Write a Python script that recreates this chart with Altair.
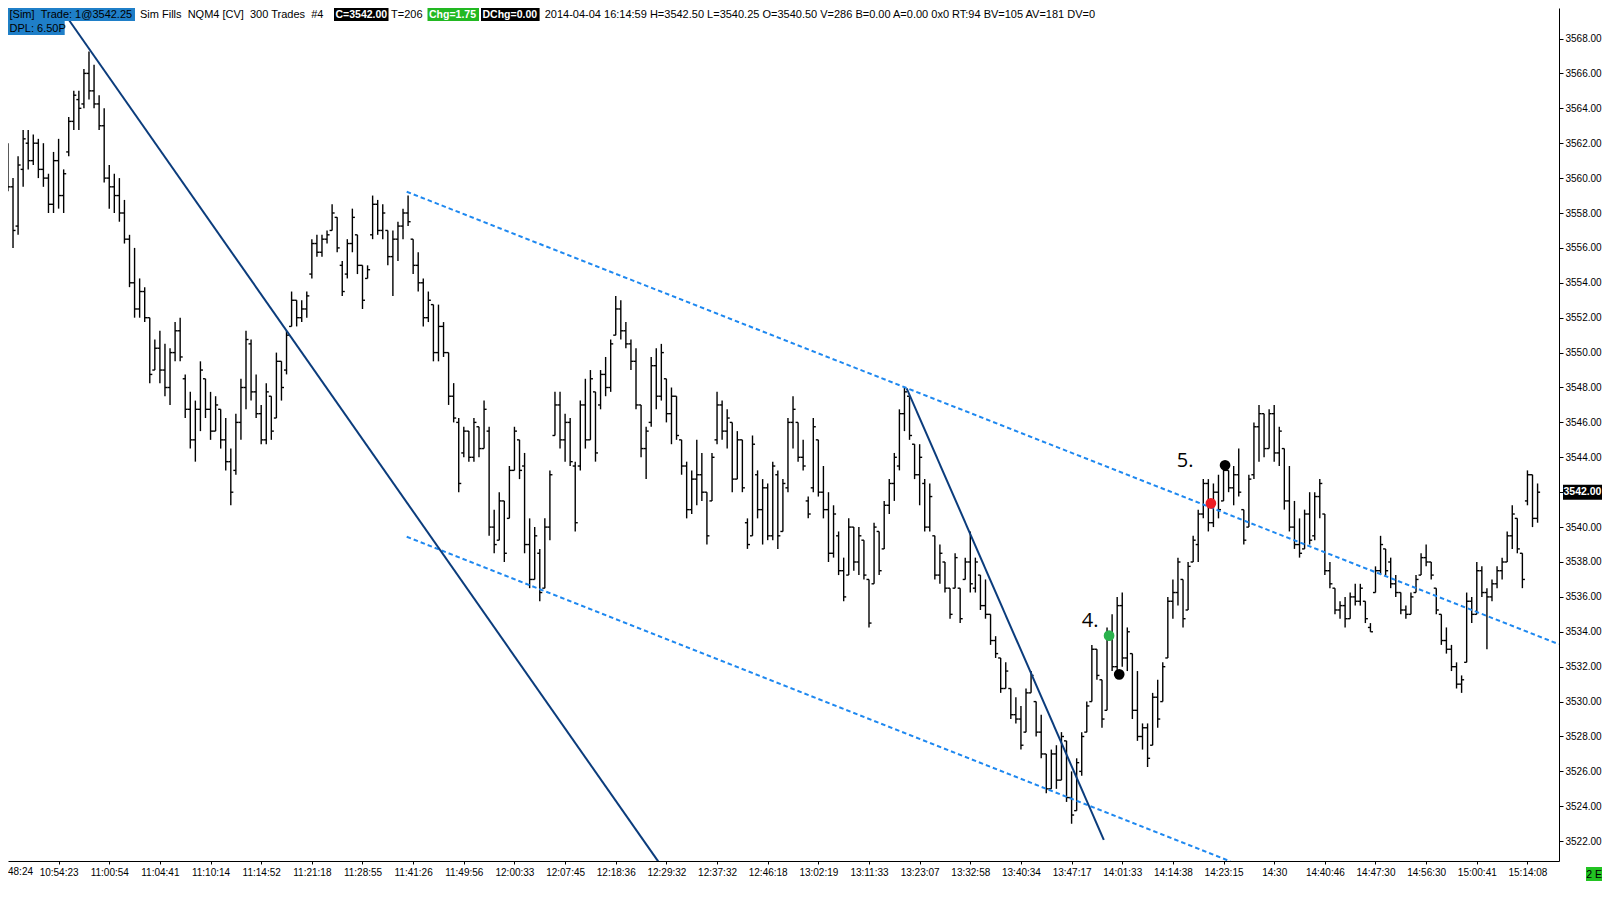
import altair as alt
import pandas as pd

# ---------------- data ----------------
high = [
3562.0, 3560.0, 3561.25, 3562.75, 3562.75, 3562.5, 3562.25, 3562.0, 3560.25, 3561.5,
3562.25, 3560.5, 3563.5, 3565.0, 3565.0, 3566.25, 3567.25, 3566.5, 3564.75, 3564.0,
3560.75, 3560.25, 3560.0, 3558.75, 3556.75, 3556.0, 3554.25, 3553.75, 3552.0, 3550.75,
3551.25, 3550.5, 3550.25, 3551.75, 3552.0, 3548.75, 3547.75, 3547.25, 3549.5, 3548.5,
3547.75, 3547.5, 3546.75, 3546.25, 3544.5, 3546.5, 3548.5, 3551.25, 3550.75, 3548.75,
3547.0, 3548.25, 3547.5, 3550.0, 3549.5, 3551.25, 3553.5, 3553.0, 3553.0, 3553.5,
3556.5, 3556.75, 3556.75, 3557.0, 3558.5, 3557.75, 3555.25, 3556.5, 3558.25, 3556.75,
3555.0, 3555.0, 3559.0, 3558.75, 3558.5, 3557.0, 3557.0, 3557.5, 3558.25, 3559.0,
3556.5, 3555.75, 3554.25, 3553.5, 3552.75, 3552.75, 3551.75, 3550.0, 3548.25, 3546.25,
3545.75, 3545.5, 3546.25, 3545.75, 3547.25, 3545.75, 3541.0, 3542.0, 3541.5, 3543.5,
3545.75, 3545.0, 3544.25, 3540.5, 3540.0, 3538.75, 3540.5, 3543.25, 3547.75, 3547.75,
3546.5, 3546.25, 3543.75, 3547.25, 3548.5, 3549.0, 3547.75, 3549.0, 3549.75, 3550.75,
3553.25, 3553.0, 3551.75, 3550.75, 3550.25, 3547.0, 3545.75, 3549.75, 3550.25, 3550.5,
3548.5, 3548.0, 3547.5, 3545.0, 3543.75, 3543.25, 3545.0, 3544.25, 3542.0, 3544.25,
3547.75, 3547.25, 3546.75, 3546.0, 3545.5, 3545.0, 3540.5, 3545.25, 3543.25, 3542.75,
3542.5, 3543.75, 3543.25, 3542.75, 3546.25, 3547.5, 3546.0, 3545.0, 3541.75, 3546.25,
3545.0, 3543.5, 3542.0, 3541.25, 3539.75, 3538.25, 3540.5, 3540.0, 3540.0, 3539.25,
3537.0, 3540.25, 3539.75, 3541.5, 3542.75, 3544.25, 3546.75, 3548.0, 3547.5, 3544.75,
3544.75, 3542.75, 3542.5, 3539.5, 3539.0, 3538.0, 3536.5, 3538.5, 3536.5, 3538.25,
3539.75, 3538.25, 3537.25, 3537.0, 3535.0, 3533.75, 3532.5, 3532.25, 3530.75, 3530.25,
3529.75, 3530.75, 3531.75, 3530.0, 3529.25, 3527.0, 3527.25, 3527.5, 3528.25, 3527.75,
3526.0, 3526.75, 3528.25, 3530.0, 3533.25, 3533.0, 3531.25, 3534.25, 3535.0, 3536.0,
3536.25, 3534.25, 3532.75, 3531.75, 3528.75, 3528.75, 3530.5, 3531.25, 3532.25, 3536.0,
3537.0, 3538.25, 3537.0, 3538.0, 3539.5, 3541.0, 3542.75, 3542.75, 3542.5, 3543.0,
3543.75, 3543.25, 3543.5, 3544.5, 3541.0, 3543.0, 3546.0, 3547.0, 3546.5, 3546.75,
3547.0, 3545.75, 3544.5, 3543.5, 3541.5, 3540.5, 3541.0, 3542.0, 3542.0, 3542.75,
3540.75, 3538.0, 3536.5, 3535.75, 3536.0, 3536.25, 3536.75, 3536.75, 3535.75, 3534.5,
3537.75, 3539.5, 3538.75, 3538.25, 3537.25, 3536.25, 3535.5, 3536.25, 3537.25, 3538.5,
3539.0, 3538.0, 3536.5, 3535.0, 3534.25, 3533.25, 3532.25, 3531.5, 3536.25, 3536.0,
3538.0, 3537.75, 3536.5, 3537.0, 3537.75, 3538.25, 3539.75, 3541.25, 3540.5, 3538.5,
3543.25, 3543.0, 3542.5,
]
low = [
3559.25, 3556.0, 3556.75, 3559.5, 3560.5, 3560.75, 3560.0, 3559.5, 3558.0, 3558.0,
3558.25, 3558.0, 3561.25, 3562.75, 3562.75, 3564.0, 3564.5, 3564.0, 3562.75, 3559.75,
3558.25, 3558.0, 3557.5, 3556.25, 3553.75, 3552.0, 3552.0, 3551.75, 3548.25, 3549.0,
3548.25, 3547.5, 3547.0, 3549.5, 3549.5, 3546.25, 3544.5, 3543.75, 3545.5, 3546.25,
3545.0, 3545.5, 3544.5, 3543.25, 3541.25, 3543.0, 3545.0, 3546.75, 3547.25, 3546.25,
3544.75, 3544.75, 3545.0, 3546.25, 3547.25, 3548.75, 3551.5, 3551.5, 3551.75, 3552.0,
3554.25, 3555.5, 3555.5, 3556.25, 3557.0, 3555.75, 3553.25, 3554.25, 3555.75, 3554.5,
3552.5, 3554.25, 3556.5, 3556.75, 3556.5, 3555.0, 3553.25, 3555.25, 3556.5, 3557.25,
3554.5, 3553.5, 3551.5, 3551.75, 3549.5, 3549.5, 3549.75, 3547.0, 3546.0, 3542.0,
3544.0, 3543.75, 3543.75, 3544.0, 3544.5, 3539.5, 3538.5, 3539.25, 3538.0, 3540.5,
3543.25, 3542.75, 3538.5, 3536.5, 3537.0, 3535.75, 3536.5, 3539.25, 3545.25, 3544.5,
3543.75, 3543.5, 3539.75, 3543.25, 3544.5, 3545.0, 3543.75, 3546.75, 3547.5, 3547.75,
3551.0, 3550.75, 3550.25, 3549.0, 3546.75, 3544.0, 3542.75, 3545.75, 3546.75, 3547.25,
3546.0, 3544.75, 3545.0, 3543.0, 3540.5, 3540.75, 3541.25, 3541.5, 3539.0, 3541.5,
3544.75, 3545.0, 3544.5, 3542.0, 3542.75, 3542.0, 3538.75, 3539.5, 3540.5, 3539.0,
3539.25, 3539.25, 3538.75, 3539.75, 3542.0, 3544.5, 3543.75, 3543.25, 3540.5, 3542.0,
3541.75, 3540.5, 3538.0, 3538.25, 3537.25, 3535.75, 3537.25, 3537.5, 3537.25, 3537.0,
3534.25, 3536.75, 3537.25, 3538.75, 3540.75, 3541.5, 3543.25, 3545.5, 3545.0, 3542.75,
3541.25, 3539.75, 3539.75, 3537.0, 3536.75, 3536.25, 3534.75, 3536.5, 3534.5, 3537.0,
3536.25, 3536.25, 3535.25, 3534.75, 3533.25, 3532.5, 3530.5, 3530.75, 3529.0, 3528.75,
3527.25, 3528.25, 3530.5, 3528.0, 3526.75, 3524.75, 3525.0, 3525.0, 3525.5, 3524.25,
3523.0, 3523.75, 3525.75, 3528.25, 3530.0, 3531.25, 3528.5, 3529.5, 3531.75, 3531.75,
3532.0, 3531.75, 3529.0, 3527.75, 3527.25, 3526.25, 3527.5, 3528.5, 3530.0, 3532.5,
3534.75, 3535.5, 3534.25, 3535.25, 3538.0, 3538.0, 3540.5, 3539.75, 3540.0, 3540.5,
3541.5, 3542.0, 3541.25, 3541.75, 3539.0, 3540.0, 3542.75, 3543.75, 3544.0, 3544.5,
3543.75, 3543.5, 3541.0, 3539.75, 3538.75, 3538.25, 3538.75, 3539.0, 3539.25, 3540.5,
3537.25, 3536.5, 3535.0, 3534.75, 3534.25, 3534.75, 3535.5, 3535.5, 3534.5, 3534.0,
3536.25, 3537.25, 3537.25, 3536.5, 3536.0, 3535.0, 3534.75, 3535.0, 3536.25, 3537.25,
3537.75, 3537.0, 3535.0, 3533.25, 3532.75, 3531.75, 3530.75, 3530.5, 3532.25, 3534.5,
3535.0, 3536.0, 3533.0, 3535.75, 3536.5, 3537.0, 3538.0, 3538.75, 3538.5, 3536.5,
3541.25, 3540.0, 3540.25,
]
open_ = [
3561.5, 3559.5, 3557.25, 3560.5, 3562.0, 3561.0, 3562.0, 3560.5, 3560.0, 3558.5,
3561.0, 3559.0, 3561.5, 3563.25, 3564.5, 3564.25, 3566.0, 3565.0, 3564.25, 3563.0,
3560.0, 3559.5, 3559.0, 3558.0, 3556.5, 3554.0, 3552.5, 3553.5, 3552.0, 3549.0,
3550.25, 3549.0, 3548.0, 3550.0, 3551.25, 3548.5, 3546.75, 3545.0, 3546.75, 3548.5,
3546.75, 3545.5, 3546.75, 3545.0, 3543.75, 3543.25, 3546.0, 3548.0, 3550.5, 3547.75,
3546.5, 3545.0, 3547.5, 3546.25, 3549.5, 3549.0, 3551.5, 3553.0, 3552.0, 3552.5,
3554.5, 3556.25, 3555.75, 3556.5, 3557.0, 3557.75, 3555.0, 3554.5, 3556.25, 3556.75,
3555.0, 3554.25, 3556.75, 3558.5, 3557.0, 3557.0, 3555.5, 3556.5, 3557.25, 3558.0,
3556.5, 3555.0, 3554.0, 3552.0, 3552.75, 3550.0, 3551.5, 3550.0, 3547.5, 3546.0,
3544.25, 3545.5, 3544.0, 3545.75, 3544.5, 3545.5, 3540.0, 3539.25, 3541.5, 3540.5,
3543.25, 3545.0, 3543.5, 3539.0, 3537.0, 3538.5, 3536.5, 3540.0, 3545.25, 3547.0,
3545.0, 3546.0, 3543.5, 3543.5, 3547.0, 3545.0, 3547.75, 3547.0, 3548.75, 3548.0,
3551.0, 3552.5, 3551.25, 3550.5, 3549.5, 3547.0, 3544.5, 3546.0, 3549.25, 3547.5,
3548.5, 3546.5, 3547.5, 3545.0, 3543.5, 3541.0, 3542.75, 3543.0, 3542.0, 3541.5,
3545.0, 3547.0, 3545.5, 3546.0, 3542.75, 3545.0, 3540.25, 3539.5, 3543.0, 3541.0,
3542.25, 3539.5, 3543.0, 3539.75, 3542.25, 3546.0, 3546.0, 3544.0, 3541.5, 3542.25,
3545.0, 3542.0, 3541.0, 3538.5, 3539.5, 3537.5, 3537.25, 3540.0, 3538.0, 3539.25,
3537.0, 3536.75, 3539.75, 3538.75, 3541.25, 3542.5, 3543.5, 3546.5, 3547.5, 3544.75,
3543.0, 3542.5, 3540.0, 3539.5, 3537.25, 3538.0, 3536.5, 3536.5, 3536.5, 3537.0,
3538.0, 3536.5, 3537.25, 3535.5, 3535.0, 3533.5, 3532.5, 3530.75, 3530.75, 3529.25,
3529.0, 3528.25, 3530.5, 3530.0, 3528.25, 3527.0, 3525.0, 3527.0, 3525.5, 3527.75,
3524.5, 3523.75, 3526.0, 3528.25, 3530.0, 3533.0, 3531.25, 3529.5, 3533.75, 3532.0,
3535.5, 3532.5, 3532.75, 3529.5, 3528.0, 3528.5, 3527.5, 3530.25, 3530.0, 3532.5,
3535.75, 3536.25, 3537.0, 3535.25, 3538.0, 3539.0, 3540.75, 3542.5, 3540.25, 3542.0,
3541.5, 3543.25, 3542.25, 3543.0, 3541.0, 3540.0, 3543.0, 3545.75, 3546.5, 3544.5,
3546.5, 3544.25, 3544.5, 3541.5, 3540.0, 3539.0, 3538.75, 3540.75, 3539.5, 3541.75,
3540.75, 3537.5, 3536.5, 3535.25, 3535.5, 3534.75, 3536.0, 3535.75, 3535.75, 3534.25,
3536.25, 3537.5, 3538.75, 3538.0, 3536.75, 3536.25, 3535.25, 3535.0, 3536.25, 3537.25,
3538.25, 3538.0, 3536.5, 3535.0, 3533.5, 3533.0, 3532.0, 3531.0, 3532.25, 3535.75,
3535.0, 3537.5, 3536.25, 3536.0, 3536.75, 3537.5, 3538.0, 3539.5, 3540.5, 3538.5,
3541.5, 3543.0, 3540.5,
]
close = [
3559.5, 3557.0, 3560.75, 3562.25, 3561.0, 3562.0, 3560.5, 3560.0, 3558.5, 3561.0,
3559.0, 3560.25, 3563.25, 3564.75, 3564.0, 3566.0, 3565.0, 3564.25, 3563.0, 3560.0,
3559.5, 3559.0, 3558.0, 3556.5, 3554.0, 3552.5, 3553.5, 3552.0, 3548.75, 3550.25,
3549.0, 3548.0, 3550.0, 3551.25, 3549.75, 3546.75, 3545.0, 3546.75, 3549.0, 3546.75,
3545.5, 3547.0, 3545.0, 3543.75, 3542.0, 3546.0, 3548.0, 3550.75, 3547.75, 3546.5,
3545.0, 3547.75, 3545.5, 3549.5, 3548.0, 3551.0, 3553.0, 3552.0, 3552.5, 3553.25,
3556.25, 3555.75, 3556.5, 3556.75, 3558.0, 3556.0, 3553.5, 3556.25, 3557.75, 3555.0,
3553.0, 3554.75, 3558.5, 3557.0, 3558.0, 3555.5, 3556.5, 3557.25, 3558.0, 3557.5,
3555.0, 3554.0, 3552.0, 3553.0, 3550.0, 3551.5, 3550.0, 3547.5, 3546.25, 3542.5,
3545.5, 3544.0, 3546.0, 3544.5, 3546.75, 3540.0, 3539.0, 3541.5, 3538.5, 3543.25,
3545.5, 3543.25, 3539.0, 3537.0, 3539.5, 3536.25, 3540.0, 3543.0, 3547.0, 3545.0,
3546.0, 3543.75, 3540.25, 3547.0, 3545.0, 3548.5, 3544.25, 3548.75, 3548.0, 3550.5,
3552.5, 3551.25, 3550.5, 3549.5, 3547.0, 3544.5, 3545.5, 3549.25, 3547.5, 3550.0,
3546.5, 3547.5, 3545.25, 3543.5, 3541.0, 3542.75, 3543.0, 3542.0, 3539.5, 3544.0,
3547.0, 3545.5, 3546.25, 3542.75, 3545.0, 3542.25, 3539.0, 3544.75, 3541.0, 3542.25,
3539.5, 3543.5, 3539.5, 3542.5, 3546.0, 3546.75, 3544.0, 3543.5, 3540.75, 3545.75,
3542.0, 3541.0, 3538.5, 3540.75, 3537.5, 3536.0, 3540.0, 3538.0, 3539.5, 3537.25,
3534.5, 3540.0, 3537.5, 3541.25, 3542.5, 3544.0, 3546.5, 3547.75, 3545.25, 3543.0,
3544.0, 3540.0, 3541.75, 3537.25, 3538.5, 3536.5, 3535.0, 3538.25, 3534.75, 3538.0,
3536.75, 3538.0, 3535.5, 3535.0, 3533.5, 3532.75, 3530.75, 3531.75, 3529.25, 3529.0,
3527.5, 3530.5, 3531.5, 3528.25, 3527.0, 3525.0, 3527.0, 3525.5, 3528.0, 3524.5,
3523.5, 3526.5, 3528.0, 3529.75, 3533.0, 3531.5, 3529.0, 3533.75, 3532.0, 3535.5,
3532.5, 3534.0, 3529.5, 3528.0, 3528.5, 3526.75, 3530.25, 3529.0, 3532.0, 3535.75,
3536.25, 3538.0, 3534.75, 3537.75, 3539.25, 3540.75, 3542.5, 3540.25, 3542.0, 3541.0,
3543.25, 3542.25, 3543.0, 3542.0, 3539.25, 3542.75, 3545.75, 3546.5, 3544.5, 3546.5,
3544.25, 3545.5, 3541.5, 3540.0, 3539.0, 3538.5, 3540.75, 3539.25, 3541.75, 3542.5,
3537.5, 3536.75, 3535.25, 3535.5, 3534.75, 3536.0, 3535.75, 3536.5, 3534.75, 3534.0,
3537.5, 3539.0, 3537.5, 3536.75, 3536.25, 3535.25, 3535.0, 3536.0, 3537.0, 3538.25,
3538.0, 3537.25, 3535.25, 3533.5, 3533.0, 3532.0, 3531.0, 3531.25, 3535.75, 3535.0,
3537.5, 3536.25, 3536.0, 3536.75, 3537.5, 3538.0, 3539.5, 3540.75, 3538.75, 3537.0,
3543.0, 3540.5, 3542.0,
]
assert len(high) == len(low) == len(open_) == len(close) == 303

# one time label every 10 bars, starting at bar 0
time_labels = [
    "10:48:24", "10:54:23", "11:00:54", "11:04:41", "11:10:14", "11:14:52",
    "11:21:18", "11:28:55", "11:41:26", "11:49:56", "12:00:33", "12:07:45",
    "12:18:36", "12:29:32", "12:37:32", "12:46:18", "13:02:19", "13:11:33",
    "13:23:07", "13:32:58", "13:40:34", "13:47:17", "14:01:33", "14:14:38",
    "14:23:15", "14:30", "14:40:46", "14:47:30", "14:56:30", "15:00:41",
    "15:14:08",
]
price_ticks = list(range(3522, 3569, 2))

# hand-drawn lines: (bar index, price) end points
solid_id = ["t1", "t1", "t2", "t2"]
solid_bar = [11.42, 128.38, 177.44, 216.36]
solid_price = [3569.32, 3520.84, 3547.95, 3522.07]
dash_id = ["up", "up", "lo", "lo"]
dash_bar = [78.73, 306.2, 78.73, 241.37]
dash_price = [3559.22, 3533.29, 3539.45, 3520.84]

# trade markers
dot_kind = ["entry4", "stop4", "entry5", "stop5"]
dot_bar = [217.4, 219.4, 237.5, 240.3]
dot_price = [3533.78, 3531.56, 3541.36, 3543.54]
note_text = ["4.", "5."]
note_bar = [212.0, 230.75]
note_price = [3534.29, 3543.43]

last_price = [3542.00]

header_texts = [
    "[Sim]\u00a0\u00a0Trade: 1@3542.25",
    "Sim Fills\u00a0\u00a0NQM4 [CV]\u00a0\u00a0300 Trades\u00a0\u00a0#4",
    "C=3542.00",
    "T=206",
    "Chg=1.75",
    "DChg=0.00",
    "2014-04-04 16:14:59 H=3542.50 L=3540.25 O=3540.50 V=286 B=0.00 A=0.00 0x0 RT:94 BV=105 AV=181 DV=0",
    "DPL: 6.50P",
]

# ---------------- layout / style ----------------
W, H = 1551, 853
FONT = "Liberation Sans"
xs = alt.Scale(domain=[0.01, 306.23], nice=False, zero=False)
ys = alt.Scale(domain=[3520.865, 3569.748], nice=False, zero=False)

labels_js = "[" + ",".join("'%s'" % t for t in time_labels) + "]"
x_axis = alt.Axis(
    values=list(range(0, 301, 10)),
    labelExpr="datum.value == 0 ? '' : " + labels_js + "[round(datum.value / 10)]",
    title=None, grid=False, tickSize=3, labelPadding=3, labelFont=FONT,
    labelFontSize=10, labelColor="black", tickColor="black", domainColor="black",
    labelAngle=0, labelOverlap=False, labelFlush=False,
)
y_axis = alt.Axis(
    orient="right", values=price_ticks, format=".2f", title=None, grid=False,
    tickSize=4, labelPadding=2, labelFont=FONT, labelFontSize=10,
    labelColor="black", tickColor="black", domainColor="black",
    labelOverlap=False, labelFlush=False,
)


def X(field):
    return alt.X(field, scale=xs, axis=x_axis)


def Y(field):
    return alt.Y(field, scale=ys, axis=y_axis)


bars = pd.DataFrame({"i": list(range(len(high))), "H": high, "L": low,
                     "O": open_, "C": close})

base = alt.Chart(bars)
hl = base.mark_rule(color="black", strokeWidth=1.4).encode(
    x=X("i:Q"), y=Y("L:Q"), y2="H:Q")
otick = base.transform_calculate(xo="datum.i - 0.5").mark_rule(
    color="black", strokeWidth=1.4).encode(x=X("xo:Q"), x2="i:Q", y=Y("O:Q"))
ctick = base.transform_calculate(xc="datum.i + 0.5").mark_rule(
    color="black", strokeWidth=1.4).encode(x=X("i:Q"), x2="xc:Q", y=Y("C:Q"))

solid = alt.Chart(pd.DataFrame({"id": solid_id, "bar": solid_bar, "price": solid_price})).mark_line(
    color="#0b3c7c", strokeWidth=2, clip=True).encode(
    x=X("bar:Q"), y=Y("price:Q"), detail="id:N")
dashed = alt.Chart(pd.DataFrame({"id": dash_id, "bar": dash_bar, "price": dash_price})).mark_line(
    color="#1e88f0", strokeWidth=2, strokeDash=[4.5, 3], clip=True).encode(
    x=X("bar:Q"), y=Y("price:Q"), detail="id:N")
dots = alt.Chart(pd.DataFrame({"kind": dot_kind, "bar": dot_bar, "price": dot_price})).mark_circle(
    size=115, opacity=1).encode(
    x=X("bar:Q"), y=Y("price:Q"),
    color=alt.Color("kind:N", legend=None, scale=alt.Scale(
        domain=dot_kind, range=["#2ab24c", "#000000", "#ec1c24", "#000000"])),
)
notes = alt.Chart(pd.DataFrame({"t": note_text, "bar": note_bar, "price": note_price})).mark_text(
    font="Open Sans", fontSize=20, align="left", baseline="alphabetic", color="black").encode(
    x=X("bar:Q"), y=Y("price:Q"), text="t:N")

first_label = alt.Chart(pd.DataFrame({"t": [time_labels[0][3:]]})).mark_text(
    font=FONT, fontSize=10, align="left", baseline="top", color="black").encode(
    x=alt.value(0), y=alt.value(H + 6), text="t:N")

lp = pd.DataFrame({"p": last_price})
price_box = alt.Chart(lp).transform_calculate(
    p1="datum.p + 0.43", p2="datum.p - 0.43").mark_rect(color="black").encode(
    x=alt.value(W + 4), x2=alt.value(W + 43), y=Y("p1:Q"), y2="p2:Q")
price_txt = alt.Chart(lp).transform_calculate(
    lbl="format(datum.p, '.2f')").mark_text(
    font=FONT, fontSize=10.5, fontWeight="bold", color="white", align="left",
    baseline="middle").encode(
    x=alt.value(W + 4.5), y=Y("p:Q"), text="lbl:N")

e_box = alt.Chart(pd.DataFrame({"a": [0]})).mark_rect(color="#22c322").encode(
    x=alt.value(W + 27), x2=alt.value(W + 43), y=alt.value(H + 6), y2=alt.value(H + 20))
e_txt = alt.Chart(pd.DataFrame({"t": ["2 E"]})).mark_text(
    font=FONT, fontSize=10.5, color="black", align="center", baseline="middle").encode(
    x=alt.value(W + 35), y=alt.value(H + 13.5), text="t:N")

# header strip: (x0, x1, row, background, text colour, bold)
header_layout = [
    (0, 127, 0, "#1f7fc8", "black", False),
    (132, None, 0, None, "black", False),
    (326, 380.5, 0, "black", "white", True),
    (383, None, 0, None, "black", False),
    (419.5, 471, 0, "#22b822", "white", True),
    (473, 531.6, 0, "black", "white", True),
    (536.7, None, 0, None, "black", False),
    (0, 56.7, 1, "#1f7fc8", "black", False),
]
header_layers = []
for txt, (x0, x1, row, bg, fg, bold) in zip(header_texts, header_layout):
    y0 = 0 if row == 0 else 13
    y1 = 13 if row == 0 else 27
    if bg is not None:
        header_layers.append(
            alt.Chart(pd.DataFrame({"a": [0]})).mark_rect(color=bg).encode(
                x=alt.value(x0), x2=alt.value(x1), y=alt.value(y0), y2=alt.value(y1)))
    header_layers.append(
        alt.Chart(pd.DataFrame({"t": [txt]})).mark_text(
            font=FONT, fontSize=10.5 if bold else 11, color=fg, align="left",
            baseline="middle", fontWeight="bold" if bold else "normal").encode(
            x=alt.value(x0 + (1.5 if bg is not None else 0)),
            y=alt.value((y0 + y1) / 2 + 0.5), text="t:N"))

chart = alt.layer(
    hl, otick, ctick, dashed, solid, dots, notes, first_label,
    price_box, price_txt, e_box, e_txt, *header_layers
).properties(
    width=W, height=H,
    autosize=alt.AutoSizeParams(type="none"),
    padding={"left": 0, "top": 0, "right": 44, "bottom": 25},
    background="white",
).configure_view(stroke=None)

chart.save("out.html", embed_options={"renderer": "svg", "actions": False})
